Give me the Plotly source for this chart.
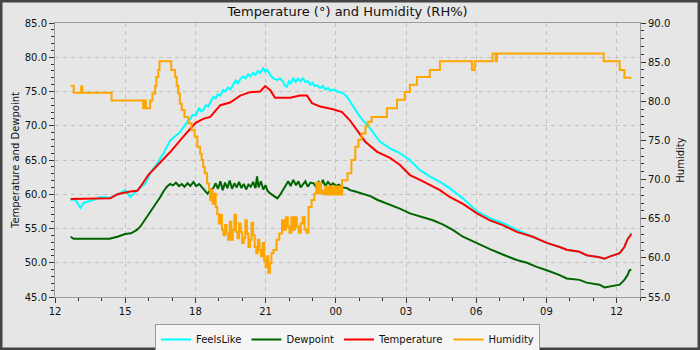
import plotly.graph_objects as go

DAY1 = "2024-05-01"
DAY2 = "2024-05-02"

# ---------------- data (times HH:MM, chart runs from 12:00 day 1 to 13:00 day 2)
fl_times = ["12:40", "12:52", "13:05", "13:13", "13:39", "13:56", "14:22", "14:40", "15:00", "15:13",
            "15:31", "15:52", "16:04", "16:22", "16:38", "16:56", "17:21", "17:39", "17:47", "17:53",
            "18:00", "18:05", "18:10", "18:15", "18:20", "18:27", "18:33", "18:40", "18:46", "18:52",
            "18:58", "19:04", "19:11", "19:17", "19:24", "19:30", "19:37", "19:43", "19:49", "19:56",
            "20:03", "20:09", "20:15", "20:21", "20:28", "20:34", "20:40", "20:46", "20:54", "20:59",
            "21:04", "21:12", "21:20", "21:30", "21:37", "21:45", "21:50", "21:55", "22:00", "22:05",
            "22:11", "22:17", "22:23", "22:30", "22:36", "22:42", "22:48", "22:54", "23:00", "23:06",
            "23:12", "23:20", "23:27", "23:33", "23:40", "23:47", "23:53", "00:03", "00:11", "00:20",
            "00:29", "00:44", "01:02", "01:28", "01:53", "02:19", "02:44", "03:10", "03:36", "04:01",
            "04:27", "04:52", "05:26", "06:02", "06:35", "07:08", "07:44", "08:25", "09:01", "09:34",
            "09:52", "10:25", "10:43", "11:16", "11:29", "11:42", "12:08", "12:20", "12:28", "12:38"]
fl_vals = [59.2, 59.2, 58.0, 58.7, 59.2, 59.6, 59.5, 59.9, 60.6, 59.6,
           60.6, 61.6, 63.1, 64.5, 66.0, 67.9, 69.1, 70.6, 71.0, 71.6,
           71.5, 72.0, 72.6, 72.1, 72.3, 73.0, 72.8, 73.6, 74.2, 74.0,
           74.6, 74.4, 75.2, 75.0, 75.6, 75.3, 75.9, 76.6, 76.2, 76.9,
           77.2, 76.9, 77.5, 77.2, 77.7, 77.4, 78.0, 77.7, 78.4, 77.9,
           78.2, 77.4, 76.9, 76.7, 76.9, 76.4, 75.8, 75.7, 76.5, 76.2,
           76.9, 76.4, 76.9, 76.5, 76.9, 76.4, 76.5, 76.0, 76.3, 75.8,
           75.9, 75.5, 75.8, 75.3, 75.5, 75.1, 75.3, 75.0, 74.9, 74.7,
           74.2, 72.8, 71.3, 69.6, 67.7, 66.7, 66.0, 65.0, 63.5, 62.6,
           61.8, 60.9, 59.4, 57.5, 56.5, 55.8, 54.8, 53.8, 52.9, 52.3,
           51.9, 51.6, 51.1, 50.8, 50.6, 50.9, 51.4, 52.3, 53.4, 54.3]

dp_times = ["12:40", "12:48", "13:30", "14:20", "14:40", "15:00", "15:15", "15:30", "15:39", "15:50",
            "15:59", "16:06", "16:13", "16:22", "16:30", "16:38", "16:47", "16:55", "17:03", "17:10",
            "17:18", "17:25", "17:32", "17:40", "17:47", "17:55", "18:02", "18:10", "18:18", "18:25",
            "18:31", "18:38", "18:46", "18:52", "18:58", "19:04", "19:10", "19:16", "19:22", "19:28",
            "19:34", "19:40", "19:46", "19:52", "19:58", "20:04", "20:10", "20:16", "20:22", "20:28",
            "20:34", "20:38", "20:42", "20:48", "20:54", "21:00", "21:04", "21:10", "21:18", "21:25",
            "21:30", "21:37", "21:45", "21:52", "21:58", "22:04", "22:11", "22:18", "22:24", "22:30",
            "22:36", "22:42", "22:48", "22:55", "23:03", "23:10", "23:16", "23:22", "23:27", "23:33",
            "23:40", "23:47", "23:53", "00:00", "00:08", "00:16", "00:29", "00:36", "00:50", "01:10",
            "01:30", "01:46", "02:00", "02:19", "02:44", "03:10", "03:36", "04:09", "04:34", "05:00",
            "05:26", "05:45", "06:02", "06:35", "07:08", "07:44", "08:10", "08:35", "09:01", "09:34",
            "09:52", "10:25", "10:43", "11:16", "11:29", "11:50", "12:08", "12:20", "12:28", "12:33",
            "12:38"]
dp_vals = [53.8, 53.5, 53.5, 53.5, 53.8, 54.2, 54.3, 54.8, 55.3, 56.2,
           57.0, 57.6, 58.2, 59.0, 59.6, 60.4, 61.1, 61.5, 61.3, 61.7,
           61.2, 61.5, 61.1, 61.6, 61.2, 61.8, 61.2, 61.5, 60.9, 60.5,
           60.1, 60.6, 60.9, 61.6, 60.8, 61.9, 60.6, 61.7, 60.9, 62.0,
           60.8, 61.6, 61.0, 61.8, 60.9, 61.5, 60.7, 61.4, 61.1, 61.8,
           60.9, 62.6, 61.0, 61.9, 60.7, 61.3, 60.6, 60.2, 59.9, 59.6,
           59.4, 59.9, 60.6, 61.3, 61.9, 61.2, 62.1, 61.3, 61.9, 61.0,
           61.4, 61.9, 61.1, 61.7, 61.6, 61.0, 61.8, 61.4, 62.1, 61.2,
           61.8, 61.3, 61.6, 61.2, 61.4, 61.0, 60.9, 60.6, 60.4, 60.1,
           59.7, 59.2, 58.9, 58.4, 57.9, 57.2, 56.8, 56.2, 55.6, 54.8,
           53.8, 53.3, 52.8, 52.0, 51.2, 50.4, 50.0, 49.4, 48.9, 48.2,
           47.7, 47.5, 47.1, 46.8, 46.4, 46.6, 46.8, 47.5, 48.2, 48.9,
           49.0]

temp_times = ["12:40", "13:05", "13:39", "14:22", "14:40", "15:00", "15:13", "15:31", "15:39", "15:59",
              "16:30", "16:56", "17:29", "18:00", "18:20", "18:38", "19:04", "19:29", "19:55", "20:20",
              "20:46", "20:59", "21:12", "21:24", "22:03", "22:28", "22:46", "22:59", "23:20", "23:53",
              "00:16", "00:36", "00:54", "01:15", "01:46", "02:19", "02:44", "03:10", "03:36", "04:01",
              "04:27", "04:52", "05:26", "06:02", "06:35", "07:08", "07:44", "08:25", "09:01", "09:34",
              "09:52", "10:25", "10:43", "11:16", "11:29", "11:42", "12:08", "12:20", "12:28", "12:38"]
temp_vals = [59.3, 59.3, 59.4, 59.4, 60.0, 60.3, 60.4, 60.5, 61.1, 62.8,
             64.7, 66.2, 68.4, 70.4, 71.0, 71.3, 73.0, 73.4, 74.4, 74.9,
             75.0, 75.8, 75.2, 74.1, 74.1, 74.4, 74.4, 73.3, 72.8, 72.4,
             72.0, 70.8, 69.4, 67.7, 66.2, 65.3, 64.3, 62.8, 62.1, 61.4,
             60.6, 59.6, 58.6, 57.2, 56.2, 55.5, 54.5, 53.8, 52.9, 52.3,
             51.9, 51.6, 51.1, 50.8, 50.6, 50.9, 51.4, 52.3, 53.4, 54.2]

hum_times = ["12:40", "12:48", "13:07", "13:10", "14:25", "15:46", "15:50", "15:53", "16:04", "16:10",
             "16:17", "16:20", "16:25", "16:28", "16:58", "17:08", "17:12", "17:16", "17:20", "17:25",
             "17:32", "17:42", "17:50", "17:58", "18:05", "18:12", "18:16", "18:20", "18:24", "18:30",
             "18:35", "18:38", "18:41", "18:44", "18:48", "18:52", "18:56", "19:00", "19:04", "19:08",
             "19:12", "19:16", "19:20", "19:24", "19:28", "19:32", "19:36", "19:40", "19:44", "19:48",
             "19:52", "19:56", "20:00", "20:04", "20:08", "20:12", "20:16", "20:20", "20:24", "20:28",
             "20:32", "20:36", "20:40", "20:44", "20:48", "20:52", "20:56", "21:00", "21:04", "21:07",
             "21:11", "21:15", "21:20", "21:28", "21:35", "21:42", "21:47", "21:52", "21:57", "22:01",
             "22:06", "22:10", "22:15", "22:20", "22:25", "22:30", "22:35", "22:40", "22:45", "22:50",
             "22:58", "23:05", "23:10", "23:14", "23:18", "23:22", "23:27", "23:30", "23:33", "23:36",
             "23:39", "23:42", "23:45", "23:48", "23:51", "23:54", "23:57", "00:00", "00:03", "00:06",
             "00:09", "00:12", "00:16", "00:30", "00:40", "00:50", "00:58", "01:06", "01:16", "01:22",
             "01:32", "02:11", "02:37", "02:57", "03:10", "03:28", "04:01", "04:27", "05:49", "05:56",
             "06:42", "06:50", "06:53", "11:27", "12:08", "12:20", "12:38"]
hum_vals = [82.0, 81.1, 81.9, 81.1, 80.1, 79.1, 80.1, 79.1, 80.1, 81.0,
            82.0, 83.1, 84.0, 85.1, 84.0, 83.1, 82.0, 81.0, 79.7, 78.9,
            78.0, 77.2, 76.3, 75.5, 74.2, 73.3, 72.5, 71.6, 70.8, 69.5,
            68.7, 67.4, 68.7, 66.9, 68.2, 66.5, 65.6, 64.4, 65.5, 63.6,
            62.9, 64.2, 63.1, 62.3, 64.6, 62.3, 63.6, 65.5, 63.3, 62.5,
            64.4, 63.3, 61.9, 62.5, 64.8, 63.1, 61.4, 62.3, 64.5, 62.9,
            61.4, 60.6, 62.3, 61.0, 60.2, 61.9, 59.7, 58.8, 60.2, 58.1,
            59.3, 60.6, 61.0, 62.3, 63.1, 64.8, 63.6, 65.2, 64.0, 63.2,
            65.2, 63.6, 65.2, 64.0, 63.2, 64.4, 65.2, 63.6, 63.2, 66.5,
            67.4, 68.2, 69.6, 68.3, 69.6, 68.3, 68.6, 68.1, 69.1, 68.1,
            69.1, 68.1, 69.1, 68.1, 69.1, 68.1, 69.1, 68.1, 69.1, 68.1,
            69.1, 68.1, 69.9, 70.8, 72.5, 74.2, 75.1, 75.9, 76.8, 77.4,
            78.0, 79.1, 80.2, 81.2, 82.1, 83.1, 84.0, 85.1, 84.0, 85.1,
            86.1, 85.1, 86.1, 85.1, 84.0, 83.0, 83.0]

x_range = [DAY1 + " 12:00", DAY2 + " 13:00"]


def stamp(times):
    out, day, prev = [], DAY1, None
    for t in times:
        if prev is not None and t < prev:
            day = DAY2
        out.append(day + " " + t)
        prev = t
    return out


BG = "#e6e6e6"
GRID = "#c2c2c2"
AXIS = "#9a9a9a"
TICK = "#333333"
TXT = "#111111"

fig = go.Figure()
fig.add_trace(go.Scatter(x=stamp(fl_times), y=fl_vals, name="FeelsLike", mode="lines",
                         line=dict(color="#00ffff", width=2)))
fig.add_trace(go.Scatter(x=stamp(dp_times), y=dp_vals, name="Dewpoint", mode="lines",
                         line=dict(color="#006400", width=2)))
fig.add_trace(go.Scatter(x=stamp(temp_times), y=temp_vals, name="Temperature", mode="lines",
                         line=dict(color="#ff0000", width=2)))
fig.add_trace(go.Scatter(x=stamp(hum_times), y=hum_vals, name="Humidity", mode="lines",
                         line=dict(color="#ffa500", width=2, shape="hv"), yaxis="y2"))

L, R, T, B = 55, 60, 23, 53
W, H = 700, 350
pw, ph = W - L - R, H - T - B

fig.update_layout(
    width=W, height=H,
    margin=dict(l=L, r=R, t=T, b=B, pad=0, autoexpand=False),
    paper_bgcolor=BG, plot_bgcolor=BG,
    font=dict(family="DejaVu Sans", size=10, color=TXT),
    title=dict(text="Temperature (°) and Humidity (RH%)", x=0.5, xref="paper",
               xanchor="center", y=1 - 11 / H, yanchor="middle",
               font=dict(family="DejaVu Sans", size=13, color=TXT)),
    showlegend=True,
    legend=dict(orientation="h", x=0.5, xanchor="center", y=-27 / ph, yanchor="top",
                bgcolor="#f5f5f5", bordercolor="#9a9a9a", borderwidth=1,
                font=dict(family="DejaVu Sans", size=10, color=TXT),
                itemwidth=30, tracegroupgap=0),
    xaxis=dict(type="date", range=x_range, tickformat="%H", dtick=3 * 3600000,
               tick0=DAY1 + " 12:00", ticks="outside", ticklen=5, tickcolor=TICK,
               showline=True, linecolor=AXIS, linewidth=1, mirror=True,
               showgrid=True, gridcolor=GRID, griddash="4px,4px", gridwidth=1,
               zeroline=False,
               minor=dict(dtick=3600000, ticks="outside", ticklen=3, tickcolor=TICK, showgrid=False)),
    yaxis=dict(range=[45, 85], dtick=5, tick0=45, tickformat=".1f",
               title=dict(text="Temperature and Dewpoint", standoff=3,
                          font=dict(family="DejaVu Sans", size=10, color=TXT)),
               ticks="outside", ticklen=5, tickcolor=TICK,
               showline=True, linecolor=AXIS, linewidth=1, mirror=True,
               showgrid=True, gridcolor=GRID, griddash="4px,4px", gridwidth=1,
               zeroline=False,
               minor=dict(dtick=1, ticks="outside", ticklen=3, tickcolor=TICK, showgrid=False)),
    yaxis2=dict(overlaying="y", side="right", range=[55, 90], dtick=5, tick0=55, tickformat=".1f",
                title=dict(text="Humidity", standoff=7,
                           font=dict(family="DejaVu Sans", size=10, color=TXT)),
                ticks="outside", ticklen=5, tickcolor=TICK,
                showline=True, linecolor=AXIS, linewidth=1,
                showgrid=False, zeroline=False,
                minor=dict(dtick=1, ticks="outside", ticklen=3, tickcolor=TICK, showgrid=False)),
    shapes=[
        dict(type="rect", xref="paper", yref="paper", layer="above",
             x0=-L / pw, x1=1 + R / pw, y0=-B / ph, y1=1 + T / ph,
             line=dict(color="#444444", width=5), fillcolor="rgba(0,0,0,0)"),
    ],
)

fig.write_html("out.html")
